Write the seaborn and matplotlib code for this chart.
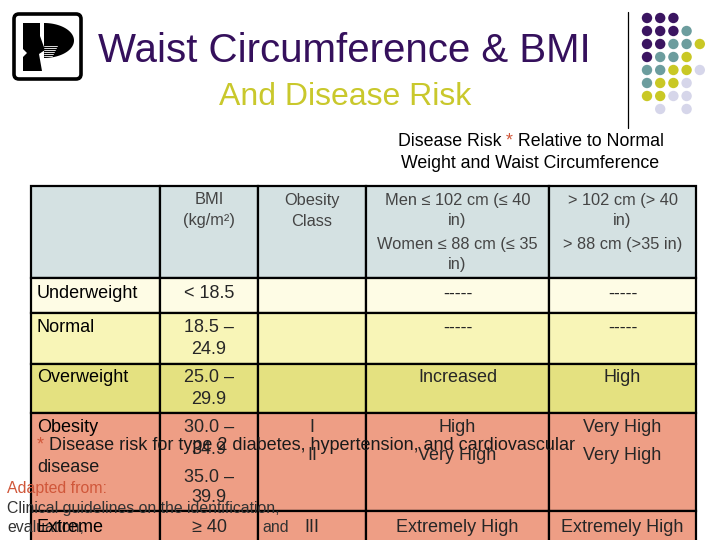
import numpy as np
import pandas as pd
import matplotlib
matplotlib.use("Agg")
import matplotlib.pyplot as plt
import matplotlib.patches as mpatches
import seaborn as sns

# ---------------- data ----------------
title = "Waist Circumference & BMI"
subtitle = "And Disease Risk"
caption_line1 = ["Disease Risk ", "*", " Relative to Normal"]
caption_line2 = "Weight and Waist Circumference"
header_cells = [[],
                ["BMI", "(kg/m²)"],
                ["Obesity", "Class"],
                ["Men ≤ 102 cm (≤ 40", "in)", "Women ≤ 88 cm (≤ 35", "in)"],
                ["> 102 cm (> 40", "in)", "> 88 cm (>35 in)"]]
categories = ["Underweight", "Normal", "Overweight", "Obesity", "Extreme"]
bmi_ranges = [["< 18.5"], ["18.5 –", "24.9"], ["25.0 –", "29.9"],
              ["30.0 –", "34.9", "35.0 –", "39.9"], ["≥ 40"]]
obesity_class = [[], [], [], ["I", "II"], ["III"]]
risk_normal_waist = [["-----"], ["-----"], ["Increased"], ["High", "Very High"], ["Extremely High"]]
risk_high_waist = [["-----"], ["-----"], ["High"], ["Very High", "Very High"], ["Extremely High"]]
footnote_line1 = ["*", " Disease risk for type 2 diabetes, hypertension, and cardiovascular"]
footnote_line2 = "disease"
source_lines = ["Adapted from:", "Clinical guidelines on the identification,", "evaluation,", "and"]
dot_pattern = ["PPP..", "PPPT.", "PPTTY", "PTTY.", "TTYYL", "TYYL.", "YYLL.", ".L.L."]

# ---------------- style / layout ----------------
sns.set_theme(style="white")
plt.rcParams["font.family"] = ["Liberation Sans", "DejaVu Sans"]

PURPLE = "#35105C"
OLIVE = "#C9C82C"
RED = "#D0573A"
dot_colors = {"P": "#3B1561", "T": "#6C9D9E", "Y": "#C9C825", "L": "#D6D6EA"}
row_colors = ["#D4E1E2", "#FEFCE5", "#F8F5B7", "#E4E180", "#EE9E85", "#EE9E85"]

col_edges = [31, 160, 258, 366, 549, 696]
row_edges = [186, 278, 313, 364, 413, 511, 548]
col_centers = [(a + b) / 2 for a, b in zip(col_edges[:-1], col_edges[1:])]

fig = plt.figure(figsize=(7.2, 5.4), dpi=100)
ax = fig.add_axes([0, 0, 1, 1])
ax.set_xlim(0, 720)
ax.set_ylim(540, 0)
ax.axis("off")
fig.patch.set_facecolor("white")

# ---- logo ----
ax.add_patch(mpatches.FancyBboxPatch((14, 14), 67, 65, boxstyle="round,pad=0,rounding_size=5",
                                     fc="white", ec="black", lw=2.6, zorder=2))
left_shape = [(23, 23), (40, 23), (40, 36), (45, 50), (39, 54), (42, 71), (23, 71),
              (23, 57), (27, 53), (23, 49)]
ax.add_patch(mpatches.Polygon(left_shape, closed=True, fc="black", ec="none", zorder=3))
t = np.linspace(-np.pi / 2, np.pi / 2, 60)
d_shape = [(44, 23)] + [(44 + 30 * np.cos(a), 40.5 + 17.5 * np.sin(a)) for a in t] + [(44, 58)]
ax.add_patch(mpatches.Polygon(d_shape, closed=True, fc="black", ec="none", zorder=3))
for yy in np.arange(46, 58, 2.0):
    ax.plot([44, 57 - (yy - 46) * 0.5], [yy, yy], color="white", lw=0.6, zorder=4)

# ---- titles ----
ax.text(344, 51, title, ha="center", va="center", fontsize=29, color=PURPLE)
ax.text(345, 97, subtitle, ha="center", va="center", fontsize=23, color=OLIVE)

# ---- decorative dots ----
ax.plot([628, 628], [12, 128], color="black", lw=0.9)
dots = pd.DataFrame([(c, r, ch) for r, row in enumerate(dot_pattern)
                     for c, ch in enumerate(row) if ch != "."], columns=["col", "row", "kind"])
dots["x"] = 647 + dots["col"] * 13.2
dots["y"] = 18 + dots["row"] * 13.0
sns.scatterplot(data=dots, x="x", y="y", hue="kind", palette=dot_colors, s=56,
                linewidth=0, legend=False, ax=ax)

renderer = fig.canvas.get_renderer()


def pieces(x, y, parts, colors, **kw):
    for p, c in zip(parts, colors):
        tx = ax.text(x, y, p, color=c, va="center", ha="left", **kw)
        bb = tx.get_window_extent(renderer=renderer)
        x = ax.transData.inverted().transform((bb.x1, bb.y0))[0]


# ---- caption ----
cap_kw = dict(fontsize=12.8)
tmp = ax.text(0, 0, "".join(caption_line1), **cap_kw)
w = tmp.get_window_extent(renderer=renderer).width
tmp.remove()
pieces(531 - w / 2, 141, caption_line1, ["black", RED, "black"], **cap_kw)
ax.text(530, 163, caption_line2, ha="center", va="center", fontsize=12.8, color="black")

# ---- table cells ----
for r in range(len(row_edges) - 1):
    for c in range(len(col_edges) - 1):
        x0, x1 = col_edges[c], col_edges[c + 1]
        y0, y1 = row_edges[r], row_edges[r + 1]
        ax.add_patch(mpatches.Rectangle((x0, y0), x1 - x0, y1 - y0, fc=row_colors[r],
                                        ec="black", lw=1.6, zorder=1))

# header text
header_y = [200, 221, 244, 265]
for c, lines in enumerate(header_cells):
    for i, s in enumerate(lines):
        ax.text(col_centers[c], header_y[i], s, ha="center", va="center",
                fontsize=11.8, color="#444444", zorder=5)

# body text
line_y = [[294], [328, 349], [378, 400], [428, 450, 478, 498], [527]]
pair_y = [[294], [328, 349], [378, 400], [428, 455], [527]]
for r, cat in enumerate(categories):
    ax.text(37, line_y[r][0], cat, ha="left", va="center", fontsize=13, color="black", zorder=5)
    for i, s in enumerate(bmi_ranges[r]):
        ax.text(col_centers[1], line_y[r][i], s, ha="center", va="center", fontsize=13, zorder=5)
    for i, s in enumerate(obesity_class[r]):
        ax.text(col_centers[2], pair_y[r][i], s, ha="center", va="center", fontsize=13, zorder=5)
    for i, s in enumerate(risk_normal_waist[r]):
        ax.text(col_centers[3], pair_y[r][i], s, ha="center", va="center", fontsize=13, zorder=5)
    for i, s in enumerate(risk_high_waist[r]):
        ax.text(col_centers[4], pair_y[r][i], s, ha="center", va="center", fontsize=13, zorder=5)

# ---- footnote overlay ----
pieces(37, 445, footnote_line1, [RED, "#1a1a1a"], fontsize=13, zorder=6)
ax.text(37, 468, footnote_line2, ha="left", va="center", fontsize=13, color="#1a1a1a", zorder=6)
src_kw = dict(ha="left", va="center", fontsize=11.4, zorder=4)
ax.text(7, 489, source_lines[0], color=RED, **src_kw)
ax.text(7, 508, source_lines[1], color="#333333", **src_kw)
ax.text(7, 527, source_lines[2], color="#333333", **src_kw)
ax.text(262, 527, source_lines[3], color="#333333", **src_kw)

fig.savefig("out.png", dpi=100, facecolor="white")
